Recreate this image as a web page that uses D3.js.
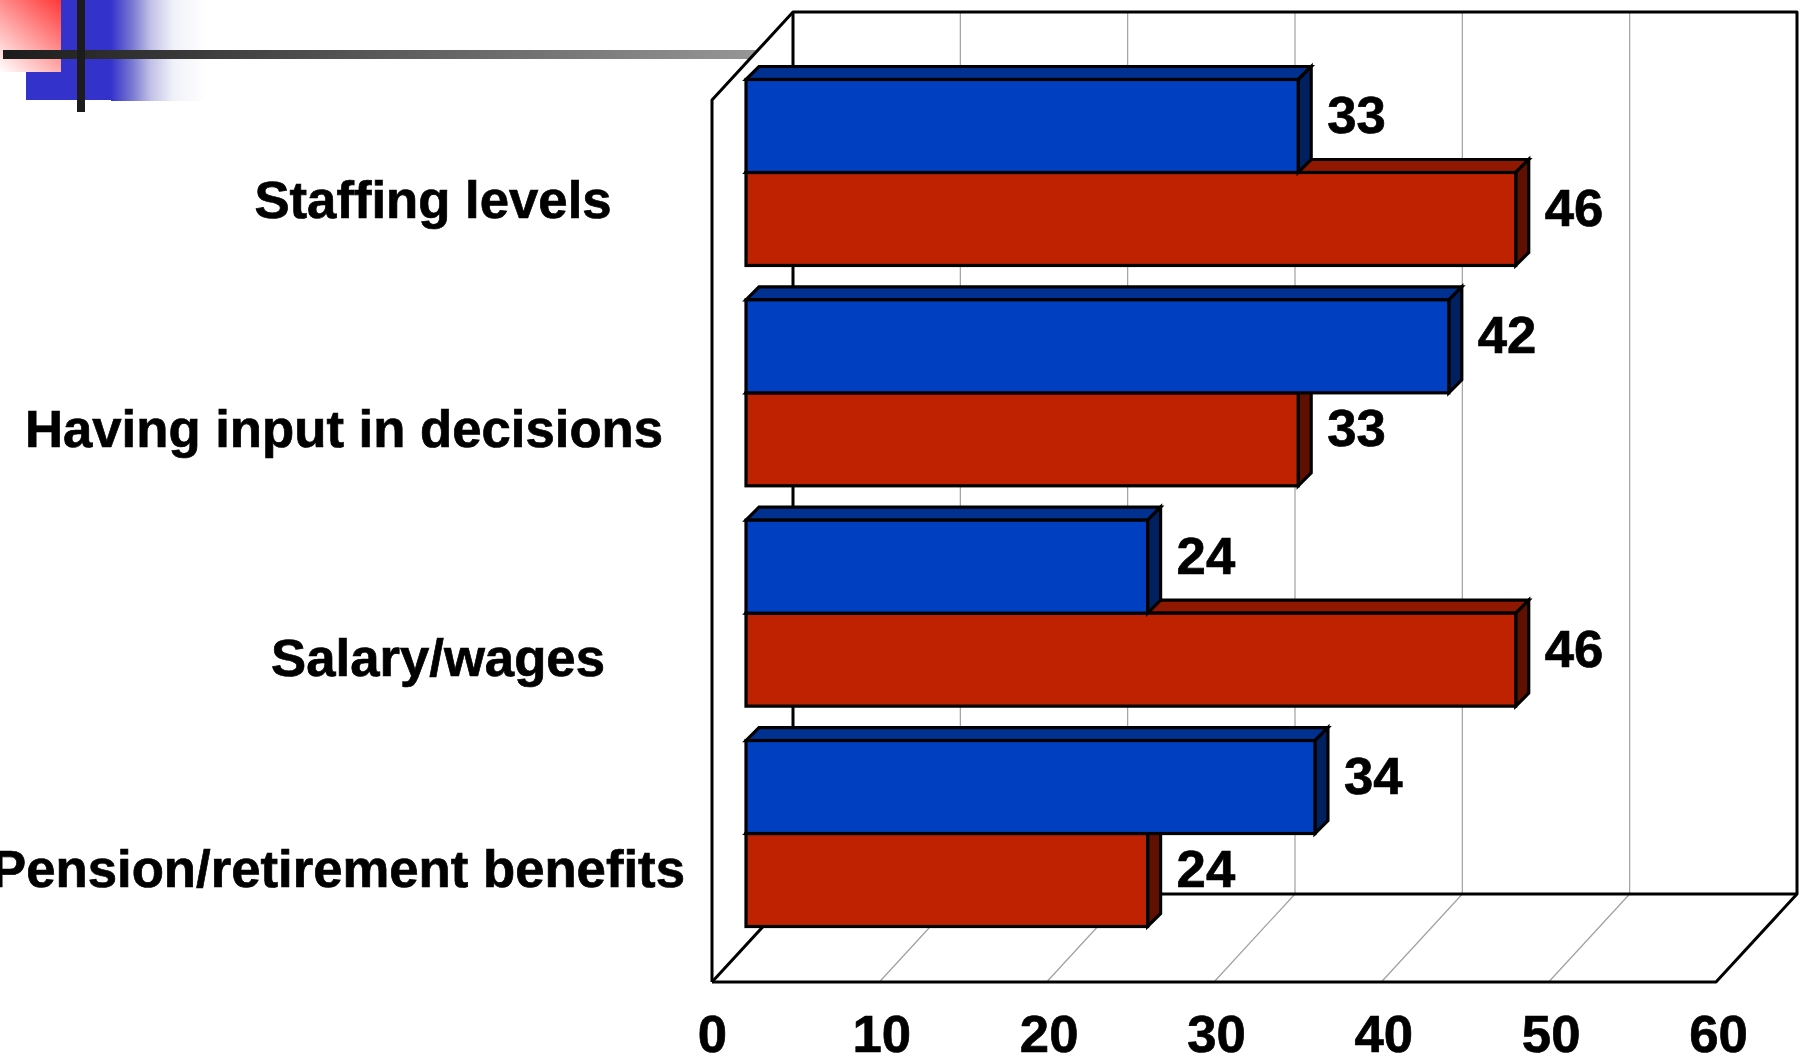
<!DOCTYPE html>
<html><head><meta charset="utf-8">
<script src="https://cdn.jsdelivr.net/npm/d3@7/dist/d3.min.js"></script>
<style>html,body{margin:0;padding:0;background:#fff;overflow:hidden}svg{display:block}
text{font-family:"Liberation Sans",Arial,sans-serif;font-weight:bold;fill:#000;stroke:#000;stroke-width:0.7px}</style>
</head><body><svg id="c" width="1800" height="1063"></svg>
<script>
const categories = ["Staffing levels","Having input in decisions","Salary/wages","Pension/retirement benefits"];
const seriesBlue = [33,42,24,34];
const seriesRed = [46,33,46,24];
const xTicks = [0,10,20,30,40,50,60];

const labelX = [433,344,438,338], labelY = [218,447,676,887];
const svg = d3.select("#c");
const defs = svg.append("defs");
function grad(id,x1,y1,x2,y2,stops){
  const g = defs.append("linearGradient").attr("id",id).attr("gradientUnits","userSpaceOnUse")
    .attr("x1",x1).attr("y1",y1).attr("x2",x2).attr("y2",y2);
  stops.forEach(s=>g.append("stop").attr("offset",s[0]).attr("stop-color",s[1]));
}
grad("gBlue",111,0,205,0,[[0,"#3333cc"],[0.23,"#7a7ad2"],[0.42,"#c0c0e6"],[0.66,"#f0f0fa"],[1,"#ffffff"]]);
grad("gRed",61,0,0,72,[[0,"#ff3838"],[1,"#ffffff"]]);
grad("gBar",3,0,1400,0,[[0,"#1c1c1c"],[1,"#ffffff"]]);

// slide decoration
svg.append("rect").attr("x",26).attr("y",0).attr("width",85).attr("height",100).attr("fill","#3333cc");
svg.append("rect").attr("x",111).attr("y",0).attr("width",94).attr("height",101).attr("fill","url(#gBlue)");
svg.append("rect").attr("x",0).attr("y",0).attr("width",61).attr("height",72).attr("fill","url(#gRed)");
svg.append("rect").attr("x",3).attr("y",50).attr("width",800).attr("height",9).attr("fill","url(#gBar)");
svg.append("rect").attr("x",77).attr("y",0).attr("width",8).attr("height",112).attr("fill","#1c1c1c");

// 3D frame
const x = d3.scaleLinear().domain([0,60]).range([712,1716]);
const depthX = 81, depthY = -88;
const frontTop = 100, frontBottom = 982;
const line = d3.line();
const g = svg.append("g");
g.append("path").attr("d",line([[x(0),frontTop],[x(0)+depthX,frontTop+depthY],[x(0)+depthX,frontBottom+depthY],[x(0),frontBottom]])+"Z")
  .attr("fill","#fff").attr("stroke","none");
g.append("rect").attr("x",x(0)+depthX).attr("y",frontTop+depthY).attr("width",x(60)-x(0)).attr("height",frontBottom-frontTop).attr("fill","#fff");

g.selectAll("line.back").data(xTicks.slice(1,-1)).join("line").attr("class","back")
  .attr("x1",d=>x(d)+depthX).attr("x2",d=>x(d)+depthX)
  .attr("y1",frontTop+depthY).attr("y2",frontBottom+depthY)
  .attr("stroke","#a0a0a0").attr("stroke-width",1.2);
g.selectAll("line.floor").data(xTicks.slice(1,-1)).join("line").attr("class","floor")
  .attr("x1",d=>x(d)).attr("x2",d=>x(d)+depthX)
  .attr("y1",frontBottom).attr("y2",frontBottom+depthY)
  .attr("stroke","#a0a0a0").attr("stroke-width",1.2);

const frameStroke = p => g.append("path").attr("d",p).attr("fill","none").attr("stroke","#000").attr("stroke-width",3).attr("stroke-linejoin","round");
frameStroke(line([[x(0),frontBottom],[x(0),frontTop],[x(0)+depthX,frontTop+depthY],[x(60)+depthX,frontTop+depthY],[x(60)+depthX,frontBottom+depthY],[x(60),frontBottom],[x(0),frontBottom]]));
frameStroke(line([[x(0)+depthX,frontTop+depthY],[x(0)+depthX,frontBottom+depthY],[x(60)+depthX,frontBottom+depthY]]));
frameStroke(line([[x(0),frontBottom],[x(0)+depthX,frontBottom+depthY]]));

// bars
const y = d3.scaleBand().domain(categories).range([79.5,926.5]).paddingInner(0.156).paddingOuter(0).align(0);
const ySub = d3.scaleBand().domain(["blue","red"]).range([0,y.bandwidth()]);
const barInset = 34, barDepth = 13;
const barX = v => x(v)+barInset;
const palette = {
  blue:{front:"#0040c0",top:"#003090",side:"#002060"},
  red:{front:"#bf2200",top:"#901700",side:"#601000"}
};
function bar(cat,key,v){
  const c = palette[key], y0 = y(cat)+ySub(key), h = ySub.bandwidth(), x0 = barX(0), x1 = barX(v);
  const b = svg.append("g").attr("stroke","#000").attr("stroke-width",3.2).attr("stroke-linejoin","miter");
  b.append("path").attr("fill",c.top).attr("d",line([[x0,y0],[x0+barDepth,y0-barDepth],[x1+barDepth,y0-barDepth],[x1,y0]])+"Z");
  b.append("path").attr("fill",c.side).attr("d",line([[x1,y0],[x1+barDepth,y0-barDepth],[x1+barDepth,y0+h-barDepth],[x1,y0+h]])+"Z");
  b.append("rect").attr("x",x0).attr("y",y0).attr("width",x1-x0).attr("height",h).attr("fill",c.front);
}
categories.forEach((cat,i)=>{ bar(cat,"red",seriesRed[i]); bar(cat,"blue",seriesBlue[i]); });

// value labels
const fontSize = 52.7;
categories.forEach((cat,i)=>{
  [["blue",seriesBlue[i]],["red",seriesRed[i]]].forEach(([k,v])=>{
    svg.append("text").attr("x",barX(v)+29).attr("y",y(cat)+ySub(k)+ySub.bandwidth()/2+7)
      .attr("font-size",fontSize).text(v);
  });
});

// category labels
svg.selectAll("text.cat").data(categories).join("text").attr("class","cat")
  .attr("x",(d,i)=>labelX[i]).attr("y",(d,i)=>labelY[i]).attr("text-anchor","middle")
  .attr("font-size",fontSize).text(d=>d);

// x axis
const axis = d3.axisBottom(x).tickValues(xTicks).tickSize(0).tickPadding(0).tickFormat(d3.format("d"));
const ax = svg.append("g").attr("transform",`translate(0,${frontBottom})`).call(axis);
ax.select(".domain").remove();
ax.selectAll("text").attr("font-size",fontSize).attr("font-family",'"Liberation Sans",Arial,sans-serif').attr("dy",null).attr("y",70).attr("x",d=>d===0?0:2);
</script></body></html>
